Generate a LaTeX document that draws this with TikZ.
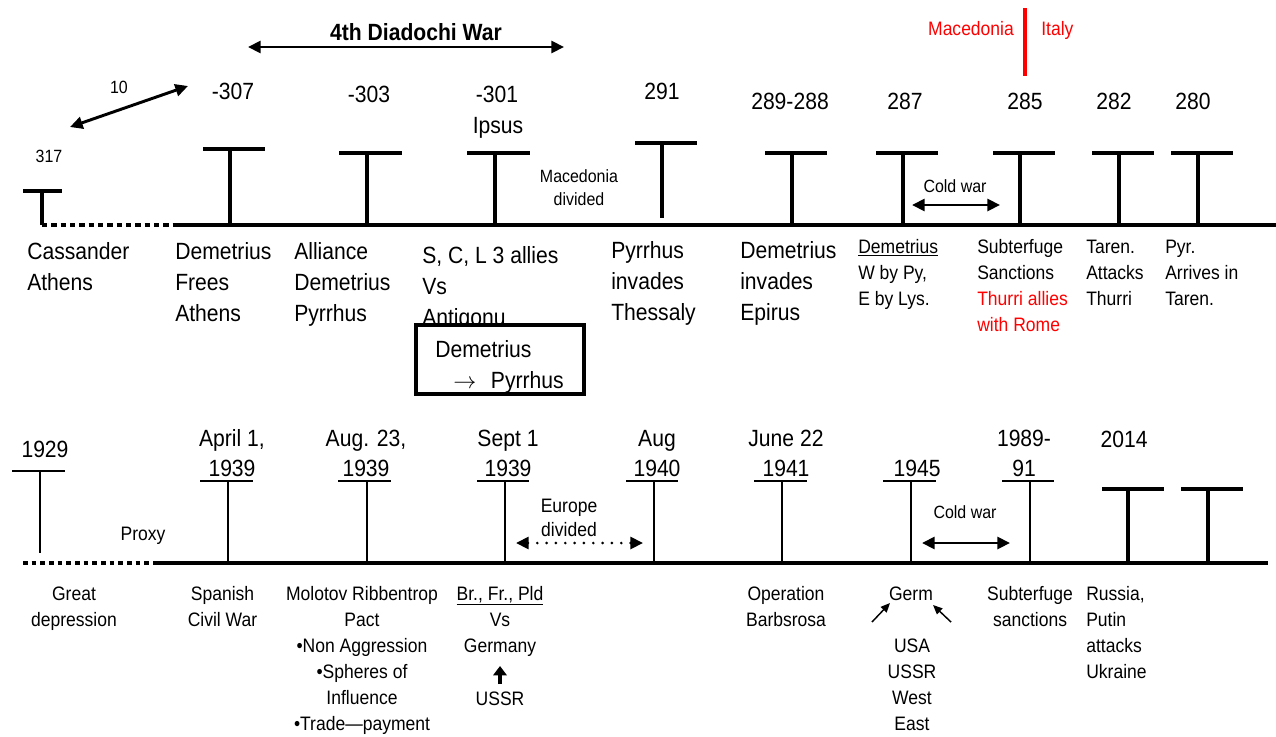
\documentclass[tikz,border=0pt]{standalone}
\usepackage{fontspec}
\setmainfont{Liberation Sans}[FakeStretch=0.9]
\usetikzlibrary{arrows.meta}
\definecolor{rd}{RGB}{255,0,0}
\newcommand\fs{\rule{0pt}{15pt}}
\tikzset{
  lg/.style={font=\fontsize{17.6pt}{23.25pt}\selectfont, inner sep=0pt},
  lgb/.style={font=\fontsize{17.6pt}{22.5pt}\selectfont, inner sep=0pt},
  md/.style={font=\fontsize{14.6pt}{19.5pt}\selectfont, inner sep=0pt},
  sm/.style={font=\fontsize{13.3pt}{17.25pt}\selectfont, inner sep=0pt},
  axisline/.style={line width=3pt},
  tmark/.style={line width=3pt},
  thinmark/.style={line width=1.1pt},
  dbl/.style={line width=2.2pt, {Triangle[length=9.5pt,width=9pt]}-{Triangle[length=9.5pt,width=9pt]}},
}
\begin{document}
\begin{tikzpicture}[x=0.75pt,y=-0.75pt]
\useasboundingbox (0,0) rectangle (1276,736);

% ---------------- top timeline ----------------
\coordinate (ta0) at (42,225); \coordinate (ta1) at (175,225); \coordinate (ta2) at (1276,225);
\draw[axisline, dash pattern=on 4pt off 3pt] (ta0) -- (ta1);
\draw[axisline] (ta1) -- (ta2);
\foreach \a/\b/\y/\s/\e in {23/62/191/42/225, 203/265/149/230/225, 339/402/153/367/225,
  467/530/153/495/225, 635/697/143/662/218, 765/827/153/792/225, 876/938/153/903/225,
  993/1055/153/1020/225, 1092/1154/153/1119/225, 1171/1233/153/1198/225}
  \draw[tmark] (\a,\y) -- (\b,\y) (\s,\y) -- (\s,\e);

\node[sm, anchor=base] (n317) at (49,162) {317};
\node[sm, anchor=base] (n10) at (119,93) {10};
\coordinate (tenA) at (70,127); \coordinate (tenB) at (188,86);
\draw[dbl] (tenA) -- (tenB);

\node[font=\fontsize{17.6pt}{20pt}\selectfont\bfseries, inner sep=0pt, anchor=base] (diad) at (416,40) {4th Diadochi War};
\coordinate (dA) at (248,47); \coordinate (dB) at (564,47);
\draw[dbl] (dA) -- (dB);

\node[lg, anchor=base] (n307) at (233,99) {-307};
\node[lg, anchor=base] (n303) at (369,102) {-303};
\node[lg, anchor=base] (n301) at (497,102) {-301};
\node[lg, anchor=base] (ipsus) at (498,133) {Ipsus};
\node[lg, anchor=base] (n291) at (662,99) {291};
\node[lg, anchor=base] (n289) at (790,109) {289-288};
\node[lg, anchor=base] (n287) at (905,109) {287};
\node[lg, anchor=base] (n285) at (1025,109) {285};
\node[lg, anchor=base] (n282) at (1114,109) {282};
\node[lg, anchor=base] (n280) at (1193,109) {280};

\node[md, anchor=base, text=rd] (redmac) at (971,35) {Macedonia};
\node[md, anchor=base west, text=rd] (reditaly) at (1041,35) {Italy};
\coordinate (rlA) at (1025,8); \coordinate (rlB) at (1025,76);
\draw[rd, line width=3pt] (rlA) -- (rlB);

\node[sm, anchor=north, align=center] (macdiv) at (579,162) {\fs Macedonia\\divided};
\node[sm, anchor=base] (cw1) at (955,192) {Cold war};
\coordinate (cwA) at (912,205); \coordinate (cwB) at (1000,205);
\draw[dbl] (cwA) -- (cwB);

\node[lg, anchor=north west, align=left] (cass) at (27,239) {\fs Cassander\\Athens};
\node[lg, anchor=north west, align=left] (dfa) at (175,239) {\fs Demetrius\\Frees\\Athens};
\node[lg, anchor=north west, align=left] (adp) at (294,239) {\fs Alliance\\Demetrius\\Pyrrhus};
\node[lg, anchor=north west, align=left] (scl) at (422,243) {\fs S, C, L 3 allies\\Vs\\Antigonu};
\node[lg, anchor=north west, align=left] (pit) at (611,238) {\fs Pyrrhus\\invades\\Thessaly};
\node[lg, anchor=north west, align=left] (die) at (740,238) {\fs Demetrius\\invades\\Epirus};
\node[md, anchor=north west, align=left] (dwe) at (858,233) {\fs\underline{Demetrius}\\W by Py,\\E by Lys.};
\node[md, anchor=north west, align=left] (subs) at (977,233) {\fs Subterfuge\\Sanctions\\\textcolor{rd}{Thurri allies}\\\textcolor{rd}{with Rome}};
\node[md, anchor=north west, align=left] (taren) at (1086,233) {\fs Taren.\\Attacks\\Thurri};
\node[md, anchor=north west, align=left] (pyr) at (1165,233) {\fs Pyr.\\Arrives in\\Taren.};

\node[draw, line width=3pt, fill=white, outer sep=0pt, inner sep=0pt,
  minimum width=126pt, minimum height=51.75pt, anchor=north west] (box) at (416,325) {};
\node[lg, anchor=north west, align=left] (boxtxt) at (435,337) {\fs Demetrius\\\hspace*{13.5pt}$\rightarrow$\hspace{11pt}Pyrrhus};

% ---------------- bottom timeline ----------------
\coordinate (ba0) at (23,563); \coordinate (ba1) at (155,563); \coordinate (ba2) at (1268,563);
\draw[axisline, dash pattern=on 3.5pt off 3pt] (ba0) -- (ba1);
\draw[axisline] (ba1) -- (ba2);
\draw[thinmark] (12,471) -- (65,471) (40,471) -- (40,553);
\foreach \a/\b/\s in {200/253/228, 338/391/367, 477/529/505, 626/678/654, 754/807/782, 883/936/911, 1002/1054/1030}
  \draw[thinmark] (\a,481) -- (\b,481) (\s,481) -- (\s,562);
\foreach \a/\b/\s in {1102/1164/1128, 1181/1243/1208}
  \draw[tmark] (\a,489) -- (\b,489) (\s,489) -- (\s,563);

\node[lg, anchor=base] (y1929) at (45,457) {1929};
\node[lgb, anchor=north, align=center] (yapr) at (232,426) {\fs April 1,\\1939};
\node[lgb, anchor=north, align=center] (yaug) at (366,426) {\fs Aug. 23,\\1939};
\node[lgb, anchor=north, align=center] (ysep) at (508,426) {\fs Sept 1\\1939};
\node[lgb, anchor=north, align=center] (yaug40) at (657,426) {\fs Aug\\1940};
\node[lgb, anchor=north, align=center] (yjun) at (786,426) {\fs June 22\\1941};
\node[lg, anchor=base] (y1945) at (917,476) {1945};
\node[lgb, anchor=north, align=center] (y1989) at (1024,426) {\fs 1989-\\91};
\node[lg, anchor=base] (y2014) at (1124,447) {2014};

\node[md, anchor=base] (proxy) at (143,540) {Proxy};
\node[font=\fontsize{14.6pt}{18pt}\selectfont, inner sep=0pt, anchor=north, align=center] (eurdiv) at (569,492) {\fs Europe\\divided};
\coordinate (eA) at (516,543); \coordinate (eB) at (643,543);
\draw[line width=2.2pt, line cap=round, dash pattern=on 0pt off 7pt,
  {Triangle[length=9.5pt,width=9pt]}-{Triangle[length=9.5pt,width=9pt]}] (eA) -- (eB);
\node[sm, anchor=base] (cw2) at (965,518) {Cold war};
\coordinate (cwC) at (922,543); \coordinate (cwD) at (1010,543);
\draw[dbl] (cwC) -- (cwD);

\node[md, anchor=north, align=center] (great) at (74,580) {\fs Great\\depression};
\node[md, anchor=north, align=center] (span) at (222.5,580) {\fs Spanish\\Civil War};
\node[md, anchor=north, align=center] (molo) at (362,580) {\fs Molotov Ribbentrop\\Pact\\•Non Aggression\\•Spheres of\\Influence\\•Trade—payment};
\node[md, anchor=north, align=center] (brfr) at (500,580) {\fs\underline{Br., Fr., Pld}\\Vs\\Germany};
\node[md, anchor=base] (ussr) at (500,705) {USSR};
\coordinate (uA) at (500,684); \coordinate (uB) at (500,666);
\draw[line width=3pt, -{Triangle[length=7pt,width=10pt]}] (uA) -- (uB);
\node[md, anchor=north, align=center] (oper) at (786,580) {\fs Operation\\Barbsrosa};
\node[md, anchor=base] (germ) at (911,600) {Germ};
\coordinate (gA) at (872,622); \coordinate (gB) at (890,603);
\coordinate (gC) at (951,622); \coordinate (gD) at (933,605);
\draw[line width=1.1pt, -{Triangle[length=7pt,width=6pt]}] (gA) -- (gB);
\draw[line width=1.1pt, -{Triangle[length=7pt,width=6pt]}] (gC) -- (gD);
\node[md, anchor=north, align=center] (usa) at (912,632) {\fs USA\\USSR\\West\\East};
\node[md, anchor=north, align=center] (subs2) at (1030,580) {\fs Subterfuge\\sanctions};
\node[md, anchor=north west, align=left] (russ) at (1086,580) {\fs Russia,\\Putin\\attacks\\Ukraine};
\end{tikzpicture}
\end{document}
